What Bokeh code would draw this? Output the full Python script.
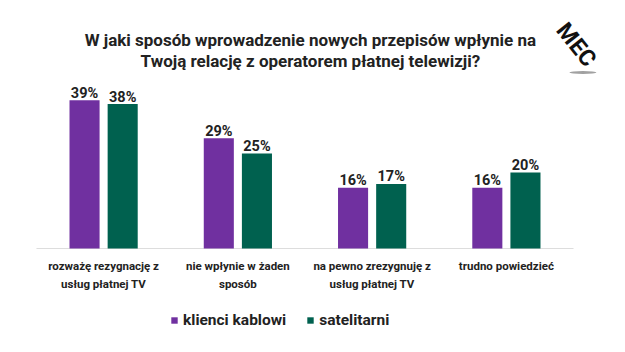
from bokeh.plotting import figure
from bokeh.models import ColumnDataSource, FactorRange, Label, Legend, LegendItem
from bokeh.transform import dodge
from bokeh.core.properties import value
from bokeh.embed import file_html
from bokeh.resources import INLINE

categories = ["rozważę rezygnację z\nusług płatnej TV", "nie wpłynie w żaden\nsposób",
              "na pewno zrezygnuję z\nusług płatnej TV", "trudno powiedzieć"]
kablowi = [39, 29, 16, 16]
satelitarni = [38, 25, 17, 20]
series_names = ["klienci kablowi", "satelitarni"]
title_lines = ["W jaki sposób wprowadzenie nowych przepisów wpłynie na",
               "Twoją relację z operatorem płatnej telewizji?"]

PURPLE = "#7030A0"
GREEN = "#00614F"
FONT = "Roboto"
TXT = "#222222"

src = ColumnDataSource(dict(
    cat=categories, k=kablowi, s=satelitarni, zero=[0] * len(categories),
    kl=[f"{v}%" for v in kablowi], sl=[f"{v}%" for v in satelitarni],
))

xr = FactorRange(*categories, range_padding=0.268, range_padding_units="absolute")
p = figure(width=625, height=352, x_range=xr, y_range=(-27.37, 65.26),
           output_backend="svg", toolbar_location=None,
           min_border_left=0, min_border_right=16, min_border_top=0, min_border_bottom=0)
p.outline_line_color = None
p.grid.visible = False
p.xaxis.visible = False
p.yaxis.visible = False
p.background_fill_color = "white"
p.border_fill_color = "white"

# baseline across the category band
p.segment(x0=[0], x1=[4], y0=[0], y1=[0], line_color="#dddddd", line_width=1)

r1 = p.vbar(x=dodge("cat", -0.142, range=p.x_range), top="k", width=0.224, source=src,
            fill_color=PURPLE, line_color=None)
r2 = p.vbar(x=dodge("cat", 0.142, range=p.x_range), top="s", width=0.224, source=src,
            fill_color=GREEN, line_color=None)

for col, ycol, off in (("kl", "k", -0.142), ("sl", "s", 0.142)):
    p.text(x=dodge("cat", off, range=p.x_range), y=ycol, text=col, source=src,
           text_align="center", text_baseline="alphabetic", y_offset=-7,
           text_font_size="14.5px", text_font=value(FONT), text_font_style="bold",
           text_color=TXT)

# category labels below the baseline
p.text(x="cat", y="zero", text="cat", source=src, text_align="center", text_baseline="top",
       y_offset=11, text_font_size="11.5px", text_font=value(FONT), text_font_style="bold",
       text_color=TXT, text_line_height=1.25)

for txt, yy in zip(title_lines, [54.9, 49.3]):
    p.add_layout(Label(x=2.04, y=yy, text=txt, text_align="center", text_baseline="alphabetic",
                       text_font=FONT, text_font_size="17px", text_font_style="bold",
                       text_color=TXT))

# logo
p.add_layout(Label(x=4.02, y=53.6, text="MEC", angle=-0.9, text_align="center",
                   text_baseline="middle", text_font=FONT, text_font_size="23px",
                   text_font_style="bold", text_color="#111111"))
p.ellipse(x=[4.07], y=[46.3], width=0.2, height=0.8, fill_color="#444444", fill_alpha=0.5,
          line_color=None)

legend = Legend(items=[LegendItem(label=series_names[0], renderers=[r1]),
                       LegendItem(label=series_names[1], renderers=[r2])],
                orientation="horizontal", location=(170, 23), margin=0, padding=0,
                label_text_font=FONT, label_text_font_size="15.5px", label_text_font_style="bold",
                label_text_color=TXT, glyph_width=8, glyph_height=8,
                spacing=20, label_standoff=5, border_line_color=None,
                background_fill_alpha=0)
p.add_layout(legend, "center")

open("out.html", "w").write(file_html(p, INLINE))
